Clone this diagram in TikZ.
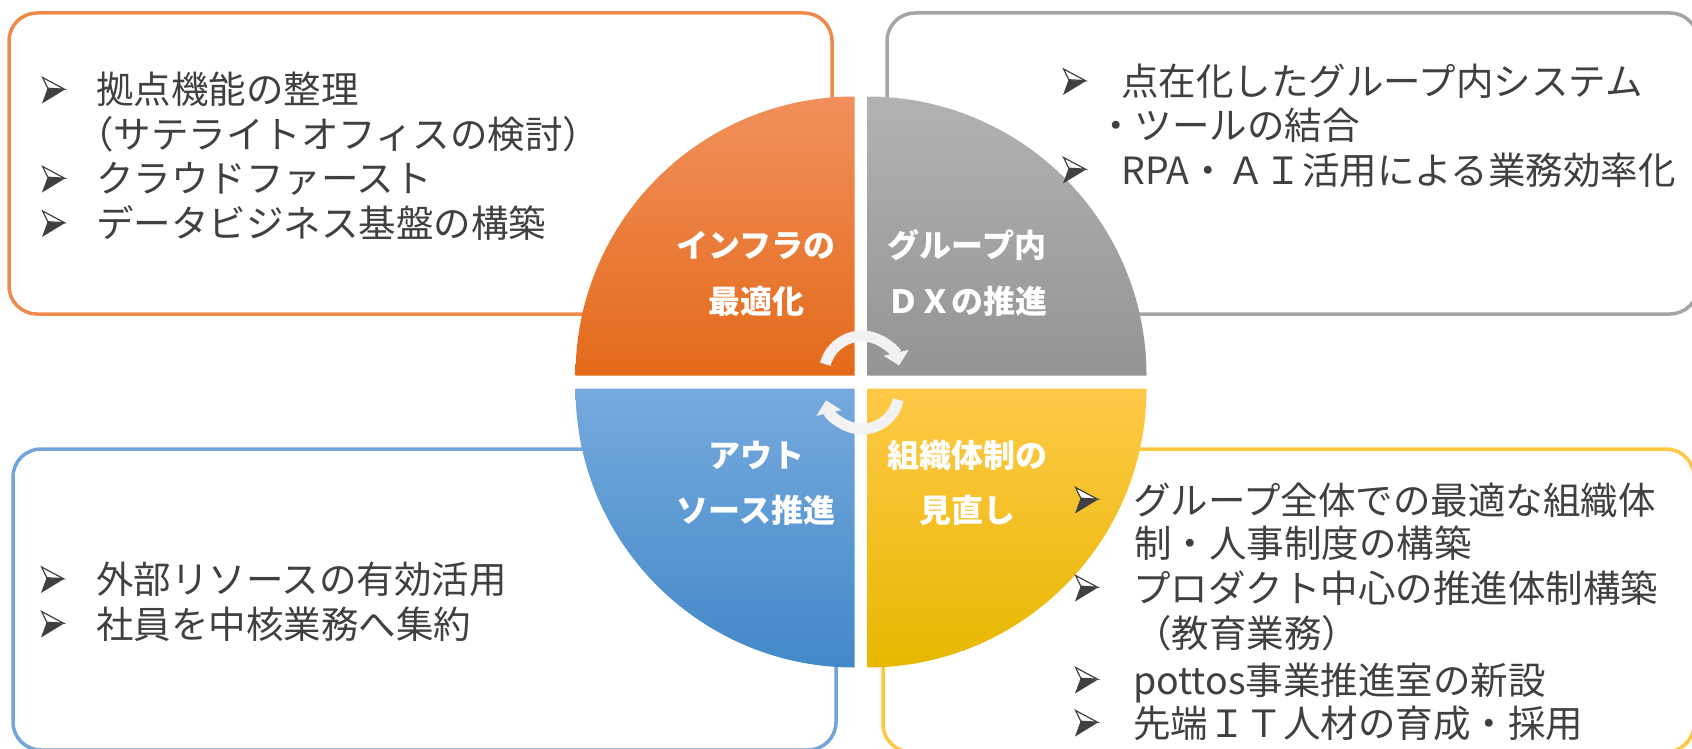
\documentclass[tikz,border=0pt]{standalone}
\usepackage{fontspec}
\setmainfont{Noto Sans CJK JP}
\usetikzlibrary{arrows.meta}
\definecolor{txt}{RGB}{64,64,64}
\definecolor{bOrange}{RGB}{240,138,76}
\definecolor{bGray}{RGB}{165,165,165}
\definecolor{bBlue}{RGB}{112,166,218}
\definecolor{bYellow}{RGB}{255,200,64}
\definecolor{oTop}{RGB}{241,144,92}
\definecolor{oMid}{RGB}{244,126,48}
\definecolor{oBot}{RGB}{228,106,26}
\definecolor{gTop}{RGB}{178,178,178}
\definecolor{gMid}{RGB}{164,164,164}
\definecolor{gBot}{RGB}{148,148,148}
\definecolor{lTop}{RGB}{118,170,222}
\definecolor{lMid}{RGB}{92,156,214}
\definecolor{lBot}{RGB}{66,136,200}
\definecolor{yTop}{RGB}{255,201,72}
\definecolor{yMid}{RGB}{253,197,4}
\definecolor{yBot}{RGB}{230,184,0}
\definecolor{arrowgray}{RGB}{242,242,242}
\begin{document}
\begin{tikzpicture}[x=1pt,y=-1pt,
  box/.style={line width=3.5pt, rounded corners=28pt},
  body/.style={anchor=base west, inner sep=0pt, text=txt, font=\fontsize{37.5}{45}\selectfont},
  lab/.style={anchor=base, inner sep=0pt, text=white, font=\bfseries\fontsize{32}{40}\selectfont},
  cyc/.style={line width=11pt, draw=arrowgray, -{Triangle[width=25pt,length=13pt]}},
  arrowbul/.pic={
    \fill[txt] (5.5,-1.5) -- (23,-0.5) -- (0,13.5) -- cycle;
    \filldraw[fill=white, draw=txt, line width=1.2pt, line join=miter]
      (0.6,-12.5) -- (22.5,-0.8) -- (5.8,-1.8) -- cycle;
  }]
\useasboundingbox (0,0) rectangle (1692,749);
\clip (0,0) rectangle (1692,749);
% boxes
\draw[box, draw=bOrange] (9,13) rectangle (832,314);
\draw[box, draw=bGray] (887,13) rectangle (1698,314);
\draw[box, draw=bBlue] (13,449) rectangle (836,750);
\draw[box, draw=bYellow] (883,449) rectangle (1694,752);
% quadrants
\shade[top color=oTop, middle color=oMid, bottom color=oBot]
  (854.5,375.5) -- (575.5,375.5) arc[start angle=180, end angle=270, radius=279] -- cycle;
\shade[top color=gTop, middle color=gMid, bottom color=gBot]
  (867.5,375.5) -- (867.5,96.5) arc[start angle=270, end angle=360, radius=279] -- cycle;
\shade[top color=lTop, middle color=lMid, bottom color=lBot]
  (854.5,388.5) -- (854.5,667.5) arc[start angle=90, end angle=180, radius=279] -- cycle;
\shade[top color=yTop, middle color=yMid, bottom color=yBot]
  (867.5,388.5) -- (1146.5,388.5) arc[start angle=0, end angle=90, radius=279] -- cycle;
% cycle arrows
\coordinate (ta) at (825.3,364.2);
\coordinate (ba) at (898.2,399.7);
\draw[cyc] (ta) arc[start angle=195, end angle=347, radius=38];
\draw[cyc] (ba) arc[start angle=12, end angle=167, radius=37];
% labels
\node[lab] (l1a) at (756,257) {インフラの};
\node[lab] (l1b) at (756,313) {最適化};
\node[lab] (l2a) at (967,257) {グループ内};
\node[lab] (l2b) at (967,313) {ＤＸの推進};
\node[lab] (l3a) at (756,467) {アウト};
\node[lab] (l3b) at (756,522) {ソース推進};
\node[lab] (l4a) at (967,467) {組織体制の};
\node[lab] (l4b) at (967,522) {見直し};
% top-left text
\pic at (42,90) {arrowbul};
\node[body] (t11) at (96,104) {拠点機能の整理};
\node[body] (t12) at (76,148.5) {（サテライトオフィスの検討）};
\pic at (42,179) {arrowbul};
\node[body] (t13) at (96,193) {クラウドファースト};
\pic at (42,223.5) {arrowbul};
\node[body] (t14) at (96,237.5) {データビジネス基盤の構築};
% top-right text
\pic at (1063,81.5) {arrowbul};
\node[body] (t21) at (1121,96) {点在化したグループ内システム};
\node[body] (t22) at (1097,139.5) {・ツールの結合};
\pic at (1063,170) {arrowbul};
\node[body] (t23) at (1121,184) {RPA・ＡＩ活用による業務効率化};
% bottom-left text
\pic at (41,579.5) {arrowbul};
\node[body] (t31) at (96,593) {外部リソースの有効活用};
\pic at (41,624) {arrowbul};
\node[body] (t32) at (96,638) {社員を中核業務へ集約};
% bottom-right text
\pic at (1075,500) {arrowbul};
\node[body] (t41) at (1133,514) {グループ全体での最適な組織体};
\node[body] (t42) at (1134,557) {制・人事制度の構築};
\pic at (1075,588) {arrowbul};
\node[body] (t43) at (1133,602) {プロダクト中心の推進体制構築};
\node[body] (t44) at (1134,647) {（教育業務）};
\pic at (1075,680) {arrowbul};
\node[body] (t45) at (1133,694) {pottos事業推進室の新設};
\pic at (1075,723) {arrowbul};
\node[body] (t46) at (1133,737) {先端ＩＴ人材の育成・採用};
\end{tikzpicture}
\end{document}
